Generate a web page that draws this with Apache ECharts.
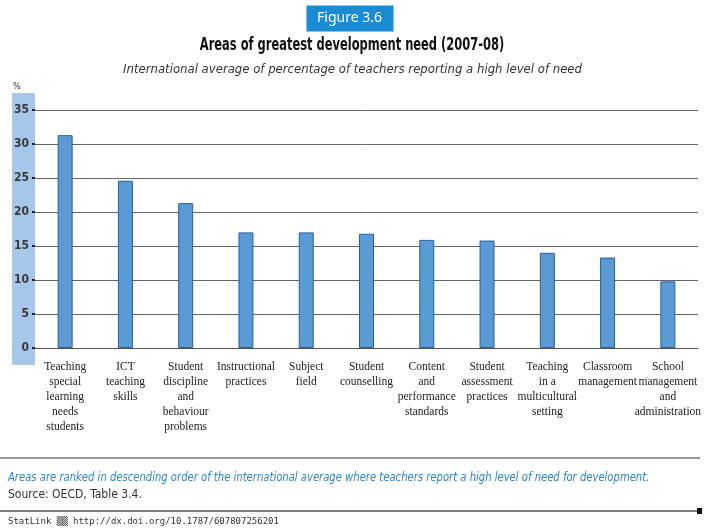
<!DOCTYPE html>
<html>
<head>
<meta charset="utf-8">
<script src="https://cdn.jsdelivr.net/npm/echarts@6/dist/echarts.min.js"></script>
<style>
  html, body { margin: 0; padding: 0; background: #fff; }
  #chart { width: 705px; height: 531px; }
</style>
</head>
<body>
<div id="chart"></div>
<script>
  // categories, in the order shown (descending)
  var categories = [
    'Teaching\nspecial\nlearning\nneeds\nstudents',
    'ICT\nteaching\nskills',
    'Student\ndiscipline\nand\nbehaviour\nproblems',
    'Instructional\npractices',
    'Subject\nfield',
    'Student\ncounselling',
    'Content\nand\nperformance\nstandards',
    'Student\nassessment\npractices',
    'Teaching\nin a\nmulticultural\nsetting',
    'Classroom\nmanagement',
    'School\nmanagement\nand\nadministration'
  ];
  // % of teachers reporting a high level of need
  var needValues = [31.3, 24.6, 21.3, 17.0, 17.0, 16.8, 15.9, 15.8, 14.0, 13.3, 9.8];
  var yTicks = [0, 5, 10, 15, 20, 25, 30, 35];

  var cond = '"DejaVu Sans Condensed", "DejaVu Sans", sans-serif';
  var labelFont = '"Liberation Serif", serif';

  var chart = echarts.init(document.getElementById('chart'));

  var options = {
    animation: false,
    textStyle: { fontFamily: cond },
    title: [
      {
        text: 'International average of percentage of teachers reporting a high level of need',
        left: 'center',
        top: 58,
        textStyle: { fontFamily: cond, fontSize: 13, fontStyle: 'italic', fontWeight: 'normal', color: '#333' }
      }
    ],
    grid: {
      left: 35,
      right: 7,
      top: 110,
      bottom: 183,
      outerBoundsMode: 'none'
    },
    xAxis: {
      type: 'category',
      data: categories,
      axisLine: { show: true, lineStyle: { color: '#555', width: 1 } },
      axisTick: { show: false },
      axisLabel: {
        interval: 0,
        margin: 11,
        color: '#222',
        fontFamily: labelFont,
        fontSize: 11.5,
        lineHeight: 15,
        align: 'center'
      },
      splitLine: { show: false }
    },
    yAxis: {
      type: 'value',
      min: yTicks[0],
      max: yTicks[yTicks.length - 1],
      interval: 5,
      axisLine: { show: false },
      axisTick: { show: true, length: 3, lineStyle: { color: '#222', width: 2 } },
      axisLabel: { color: '#3a3a3a', fontSize: 12, fontWeight: 'bold', margin: 6 },
      splitLine: { show: true, lineStyle: { color: '#666', width: 1 } }
    },
    series: [
      {
        type: 'bar',
        data: needValues,
        barWidth: 15,
        itemStyle: {
          color: '#5b9bd5',
          borderColor: '#2c5f94',
          borderWidth: 1
        }
      }
    ],
    graphic: [
      // light blue band behind the y axis labels
      { type: 'rect', left: 12, top: 93, shape: { width: 23, height: 272 }, style: { fill: '#a6c7ea' }, z: -10 },
      { type: 'text', left: 13, top: 82, style: { text: '%', fontSize: 9, fill: '#333', fontFamily: cond } },
      // figure badge
      { type: 'rect', left: 306, top: 5, shape: { width: 87, height: 26 }, style: { fill: '#1b8bd3', stroke: '#8cc4ea', lineWidth: 1 } },
      {
        type: 'text', x: 349.5, y: 18,
        style: { text: 'Figure 3.6', fontSize: 14, fill: '#fff', fontFamily: '"Noto Sans", sans-serif', textAlign: 'center', textVerticalAlign: 'middle' }
      },
      // main title (narrowed to match the condensed face)
      {
        type: 'text', x: 352, y: 46, scaleX: 0.75,
        style: { text: 'Areas of greatest development need (2007-08)', fontSize: 17, fontWeight: 'bold', fill: '#111', fontFamily: cond, textAlign: 'center', textVerticalAlign: 'middle' }
      },
      // footer
      { type: 'line', shape: { x1: 0, y1: 458, x2: 700, y2: 458 }, style: { stroke: '#777', lineWidth: 1.5 } },
      {
        type: 'text', x: 8, y: 478, scaleX: 0.93,
        style: { text: 'Areas are ranked in descending order of the international average where teachers report a high level of need for development.', fontSize: 12, fontStyle: 'italic', fill: '#2a86cc', fontFamily: cond, textVerticalAlign: 'middle' }
      },
      { type: 'text', x: 8, y: 495, style: { text: 'Source: OECD, Table 3.4.', fontSize: 12, fill: '#333', fontFamily: cond, textVerticalAlign: 'middle' } },
      { type: 'line', shape: { x1: 0, y1: 511, x2: 700, y2: 511 }, style: { stroke: '#555', lineWidth: 1.5 } },
      { type: 'rect', left: 697, top: 508, shape: { width: 5, height: 6 }, style: { fill: '#111' } },
      { type: 'text', left: 8, top: 517, style: { text: 'StatLink \u2592\u2592 http://dx.doi.org/10.1787/607807256201', fontSize: 9, fill: '#333', fontFamily: '"DejaVu Sans Mono", monospace' } }
    ]
  };

  chart.setOption(options, true);
</script>
</body>
</html>
